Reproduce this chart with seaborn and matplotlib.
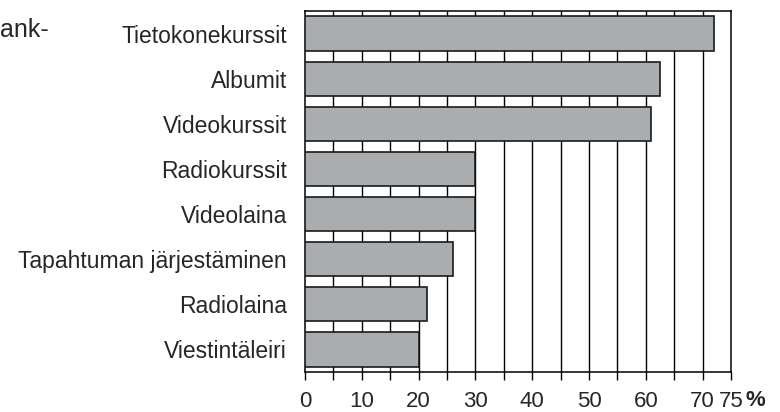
import matplotlib
matplotlib.use("Agg")
import matplotlib.pyplot as plt
import seaborn as sns
import pandas as pd

# Tiedot
categories = ["Tietokonekurssit", "Albumit", "Videokurssit", "Radiokurssit",
              "Videolaina", "Tapahtuman järjestäminen", "Radiolaina", "Viestintäleiri"]
values = [72, 62.5, 61, 30, 30, 26, 21.5, 20]
tick_labels = ["0", "", "10", "", "20", "", "30", "", "40", "", "50", "",
               "60", "", "70", "75"]

df = pd.DataFrame({"Kategoria": categories, "Osuus": values})

sns.set_style("white")
plt.rcParams['font.family'] = ['Liberation Sans', 'DejaVu Sans']

fig = plt.figure(figsize=(7.8, 4.12), dpi=100)
ax = fig.add_axes([305 / 780, 1 - 372 / 412, 426 / 780, 361 / 412])

sns.barplot(data=df, x="Osuus", y="Kategoria", orient="h", color="#a9adb0",
            edgecolor="#1a1a1a", linewidth=1.2, width=0.76, saturation=1,
            ax=ax, zorder=3)

# pystysuorat ruudukkoviivat 5 välein
for xv in range(5, 75, 5):
    ax.axvline(xv, color="black", linewidth=1.0, zorder=1)

ax.set_xlim(0, 75)
ax.set_ylim(7.5, -0.5)
ax.set_xticks(range(0, 80, 5))
ax.set_xticklabels(tick_labels, fontsize=16)
ax.tick_params(axis="x", direction="out", length=6, width=1, color="black",
               bottom=True, pad=8)
ax.tick_params(axis="y", length=0, pad=13, labelsize=16.5)
ax.set_xlabel("")
ax.set_ylabel("")
for s in ax.spines.values():
    s.set_visible(True)
    s.set_color("black")
    s.set_linewidth(1.1)

fig.text(755 / 780, 1 - 401 / 412, "%", fontsize=16, fontweight="bold",
         ha="center", va="center")
fig.text(0, 1 - 30 / 412, "ank-", fontsize=18, ha="left", va="center")

fig.savefig("out.png", dpi=100)
